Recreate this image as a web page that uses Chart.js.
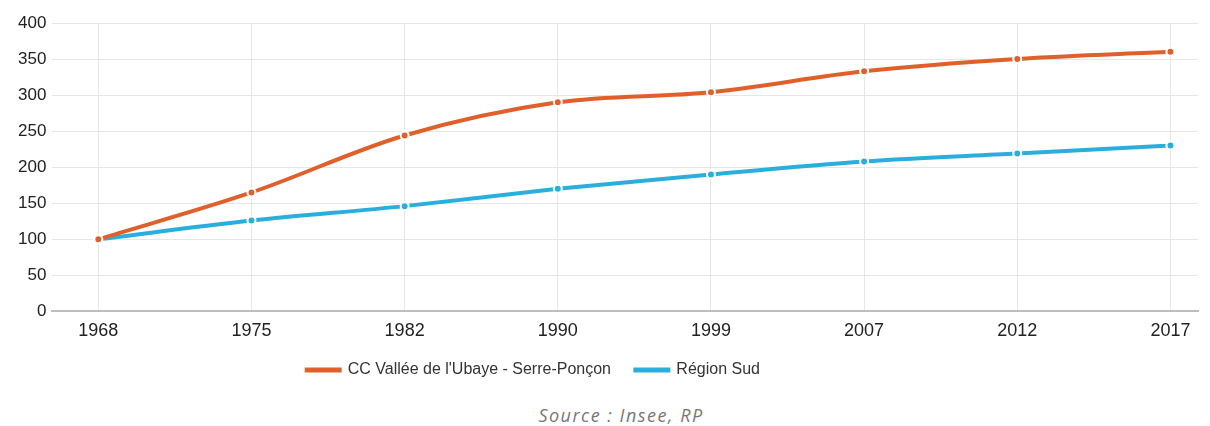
<!DOCTYPE html>
<html>
<head>
<meta charset="utf-8">
<script src="https://cdn.jsdelivr.net/npm/chart.js@4"></script>
<style>
  html, body { margin: 0; padding: 0; background: #fff; }
  #wrap { position: relative; width: 1210px; height: 388px; }
  #source {
    text-align: center; font-family: "Open Sans", sans-serif; font-style: italic;
    font-size: 18px; letter-spacing: 1.5px; color: #777; margin-top: 15px; line-height: 24px;
    padding-left: 32px;
  }
</style>
</head>
<body>
<div id="wrap"><canvas id="chart"></canvas></div>
<div id="source">Source : Insee, RP</div>
<script>
// ---- Data ----
const years = ['1968', '1975', '1982', '1990', '1999', '2007', '2012', '2017'];
const ubaye = [100, 165, 244, 290, 304, 333, 350, 360];
const regionSud = [100, 126, 146, 170, 190, 208, 219, 230];
const seriesNames = ["CC Vallée de l'Ubaye - Serre-Ponçon", 'Région Sud'];
const yTicks = [0, 50, 100, 150, 200, 250, 300, 350, 400];

const orange = '#e0602c';
const blue = '#2aafdc';

// points keyed by category index so the x scale can keep some room at the edges
function toPoints(values) {
  return values.map((v, i) => ({ x: i, y: v }));
}

function lineDataset(label, values, color) {
  return {
    label,
    data: toPoints(values),
    borderColor: color,
    backgroundColor: color,
    borderWidth: 4,
    pointRadius: 4,
    pointBorderWidth: 2,
    pointBorderColor: '#fff',
    pointBackgroundColor: color,
    cubicInterpolationMode: 'monotone'
  };
}

// the legend in the original sits a bit left of centre
const legendShift = {
  id: 'legendShift',
  afterLayout(chart) {
    if (chart.legend) {
      chart.legend.left -= 65;
      chart.legend.right -= 65;
    }
  }
};

const ctx = document.getElementById('chart').getContext('2d');
new Chart(ctx, {
  type: 'line',
  data: {
    datasets: [
      lineDataset(seriesNames[0], ubaye, orange),
      lineDataset(seriesNames[1], regionSud, blue)
    ]
  },
  options: {
    responsive: true,
    maintainAspectRatio: false,
    animation: false,
    layout: { padding: { top: 23, left: 12, right: 12, bottom: 0 } },
    plugins: {
      legend: {
        position: 'bottom',
        labels: {
          boxWidth: 33,
          boxHeight: 1,
          padding: 11,
          color: '#333',
          font: { family: 'Liberation Sans, Arial, sans-serif', size: 16 },
          // a little extra room after each name, wider gap between the two entries
          generateLabels: (chart) => {
            const items = Chart.defaults.plugins.legend.labels.generateLabels(chart);
            items.forEach(it => { it.text = it.text + '   '; });
            return items;
          }
        }
      },
      tooltip: { enabled: false }
    },
    scales: {
      x: {
        type: 'linear',
        min: -0.3,
        max: 7.18,
        afterBuildTicks: (scale) => {
          scale.ticks = years.map((_, i) => ({ value: i }));
        },
        ticks: {
          autoSkip: false,
          color: '#222',
          padding: 9,
          font: { family: 'Liberation Sans, Arial, sans-serif', size: 18 },
          callback: (v) => years[v]
        },
        grid: { color: '#e6e6e6', drawTicks: false },
        border: { color: '#bdbdbd', width: 2 }
      },
      y: {
        min: 0,
        max: 400,
        afterBuildTicks: (scale) => {
          scale.ticks = yTicks.map(v => ({ value: v }));
        },
        ticks: {
          color: '#222',
          padding: 6,
          font: { family: 'Liberation Sans, Arial, sans-serif', size: 17 }
        },
        grid: { color: '#e6e6e6', drawTicks: false },
        border: { display: false }
      }
    }
  },
  plugins: [legendShift]
});
</script>
</body>
</html>
